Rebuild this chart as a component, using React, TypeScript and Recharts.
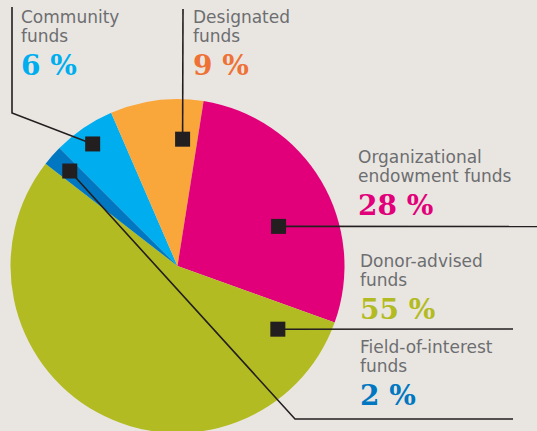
import { PieChart, Pie, Cell } from "recharts";

const categories = [
  "Community funds",
  "Designated funds",
  "Organizational endowment funds",
  "Donor-advised funds",
  "Field-of-interest funds",
];
const shares = [6, 9, 28, 55, 2];
const colors = ["#00aeef", "#f9a73a", "#e2007a", "#b2bb21", "#0077c0"];
const valueColors = ["#00aeef", "#ee7236", "#e2007a", "#b2bb21", "#0077c0"];
const labelLines = [
  ["Community", "funds"],
  ["Designated", "funds"],
  ["Organizational", "endowment funds"],
  ["Donor-advised", "funds"],
  ["Field-of-interest", "funds"],
];

// callout layout: square offset from slice mid angle, radius fraction,
// leader line points and text position
const callouts = [
  { dAngle: 0.6, r: 0.89, path: [[12, 113], [12, 7]], tx: 21, ty: 23 },
  { dAngle: -9.5, r: 0.76, path: [[183, 9]], tx: 193, ty: 23 },
  { dAngle: -9.2, r: 0.65, path: [[540, 226.5]], tx: 358, ty: 163 },
  { dAngle: 86.6, r: 0.71, path: [[513, 329]], tx: 360, ty: 267 },
  { dAngle: 0, r: 0.86, path: [[295, 419], [513, 419]], tx: 360, ty: 353 },
];

const data = categories.map((name, i) => ({ name, value: shares[i] }));

const INK = "#231f20";
const GREY = "#6d6e70";

const renderCallout = (p: any) => {
  const { cx, cy, midAngle, outerRadius, index } = p;
  const c = callouts[index];
  const a = ((midAngle + c.dAngle) * Math.PI) / 180;
  const sx = cx + outerRadius * c.r * Math.cos(a);
  const sy = cy - outerRadius * c.r * Math.sin(a);
  const pts = [[sx, sy], ...c.path].map((q) => q.join(",")).join(" ");
  return (
    <g key={`callout-${index}`}>
      <polyline points={pts} fill="none" stroke={INK} strokeWidth={1.6} />
      <rect x={sx - 7.5} y={sy - 7.5} width={15} height={15} fill={INK} />
      {labelLines[index].map((line, j) => (
        <text
          key={j}
          x={c.tx}
          y={c.ty + j * 19}
          fill={GREY}
          fontFamily="'DejaVu Sans', sans-serif"
          fontSize={17}
        >
          {line}
        </text>
      ))}
      <text
        x={c.tx}
        y={c.ty + 52}
        fill={valueColors[index]}
        fontFamily="'DejaVu Serif', serif"
        fontWeight="bold"
        fontSize={28}
      >
        {`${shares[index]} %`}
      </text>
    </g>
  );
};

export default function App() {
  return (
    <div
      style={{
        position: "absolute",
        left: 0,
        top: 0,
        width: 537,
        height: 431,
        background: "#e9e6e2",
        overflow: "hidden",
      }}
    >
      <PieChart
        width={537}
        height={431}
        margin={{ top: 0, right: 0, bottom: 0, left: 0 }}
      >
        <Pie
          data={data}
          dataKey="value"
          nameKey="name"
          cx={177.5}
          cy={266}
          outerRadius={167}
          startAngle={135}
          endAngle={-225}
          stroke="none"
          labelLine={false}
          label={renderCallout}
          isAnimationActive={false}
        >
          {data.map((d, i) => (
            <Cell key={d.name} fill={colors[i]} />
          ))}
        </Pie>
      </PieChart>
    </div>
  );
}
